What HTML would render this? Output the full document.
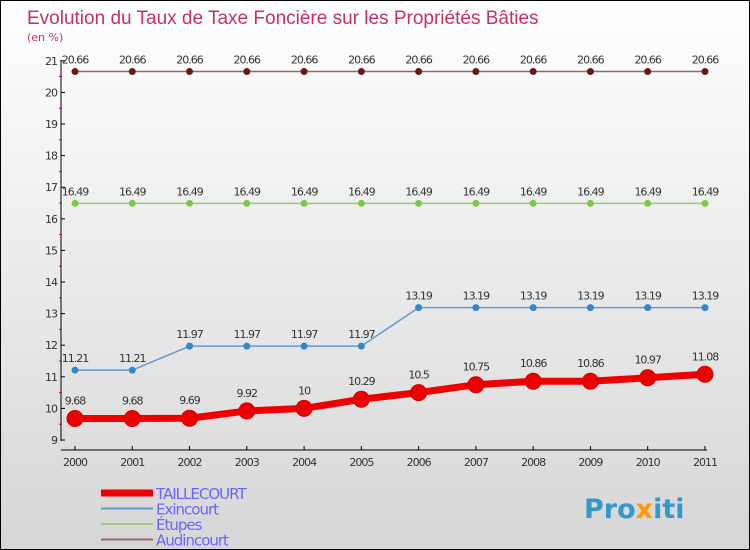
<!DOCTYPE html>
<html><head><meta charset="utf-8"><style>
body{margin:0}
#c{position:relative;width:748px;height:548px;border:1px solid #000;background:linear-gradient(#fff,#d6d6d6);font-family:"DejaVu Sans","Liberation Sans",sans-serif;overflow:hidden}
</style></head><body>
<div id="c">
<svg width="748" height="548" id="s">
<text x="26" y="23" font-size="19" fill="#c8325a" font-family="Liberation Sans, sans-serif">Evolution du Taux de Taxe Foncière sur les Propriétés Bâties</text>
<text x="26" y="40" font-size="11" fill="#c8325a">(en %)</text>
<g id="g"></g>
<text x="583" y="517" font-size="27" font-weight="bold" fill="#3399cc">Pro<tspan fill="#ff9900">x</tspan>iti</text>
</svg></div>
<script>
const years=[2000,2001,2002,2003,2004,2005,2006,2007,2008,2009,2010,2011];
const yTicks=[9,10,11,12,13,14,15,16,17,18,19,20,21];
const taillecourt=[9.68,9.68,9.69,9.92,10,10.29,10.5,10.75,10.86,10.86,10.97,11.08];
const exincourt=[11.21,11.21,11.97,11.97,11.97,11.97,13.19,13.19,13.19,13.19,13.19,13.19];
const etupes=[16.49,16.49,16.49,16.49,16.49,16.49,16.49,16.49,16.49,16.49,16.49,16.49];
const audincourt=[20.66,20.66,20.66,20.66,20.66,20.66,20.66,20.66,20.66,20.66,20.66,20.66];
const names=["TAILLECOURT","Exincourt","Étupes","Audincourt"];
const ns="http://www.w3.org/2000/svg",g=document.getElementById('g');
const X=i=>74+i*57.27, Y=v=>439-(v-9)*31.6;
function el(t,a,p){const e=document.createElementNS(ns,t);for(const k in a)e.setAttribute(k,a[k]);(p||g).appendChild(e);return e;}
let ax=el('line',{x1:60,y1:59,x2:60,y2:440,stroke:'#000'});

let bx=el('line',{x1:60,y1:449,x2:706,y2:449,stroke:'#000'});

yTicks.forEach((v,i)=>{el('line',{x1:60,y1:Y(v),x2:64,y2:Y(v),stroke:'#000'});
if(i<yTicks.length-1)el('line',{x1:58,y1:Y(v+0.5),x2:61,y2:Y(v+0.5),stroke:'#e00'});
let t=el('text',{x:56,y:Y(v)+4,'font-size':11,'text-anchor':'end',fill:'#333','letter-spacing':'-1'});t.textContent=v;
});
years.forEach((y,i)=>{el('line',{x1:X(i),y1:445,x2:X(i),y2:449,stroke:'#000'});
let t=el('text',{x:X(i),y:465,'font-size':11,'text-anchor':'middle',fill:'#333','letter-spacing':'-1'});t.textContent=y;
});
const series=[[audincourt,'#996666','#661a1a',1.5,3.5,'audincourt'],[etupes,'#99cc77','#77cc44',1.5,3.5,'etupes'],[exincourt,'#6699cc','#3388cc',1.5,3.5,'exincourt'],[taillecourt,'#ee0000','#ee0000',7,8,'taillecourt']];
series.forEach(([d,lc,pc,w,r,n])=>{
let p=el('polyline',{points:d.map((v,i)=>X(i)+','+Y(v)).join(' '),fill:'none',stroke:lc,'stroke-width':w});

d.forEach((v,i)=>{let c=el('circle',{cx:X(i),cy:Y(v),r:r,fill:pc,stroke:n=='taillecourt'?'#cc0000':'none'});

let t=el('text',{x:X(i),y:Y(v)-(n=='taillecourt'?14:8),'font-size':11,'text-anchor':'middle',fill:'#333','letter-spacing':'-1'});t.textContent=v;
});});
const leg=[['#ee0000',7],['#6699cc',2],['#99cc77',2],['#996666',2]];
leg.forEach(([c,w],i)=>{let y=492+i*15.5;
let l=el('line',{x1:100,y1:y,x2:152,y2:y,stroke:c,'stroke-width':w});

let t=el('text',{x:155,y:y+6,'font-size':15,fill:'#6666ff','letter-spacing':'-1'});t.textContent=names[i];
});
</script></body></html>
